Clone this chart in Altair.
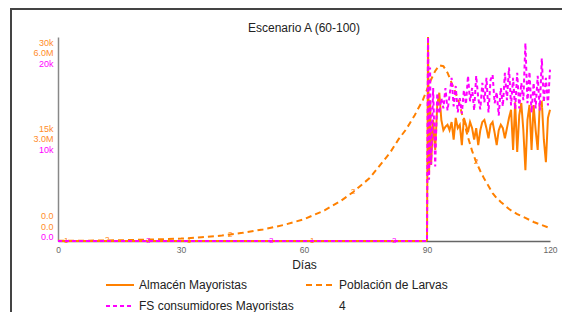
import altair as alt
import pandas as pd

FONT = "Liberation Sans"

SERIES = ["Almacén Mayoristas", "Población de Larvas", "FS consumidores Mayoristas", "4"]
COLORS = ["#FF8000", "#FF8000", "#FF00FF", "#FFFFFF"]
DASHES = [[1, 0], [6, 4], [4, 3], [1, 0]]

x_ticks = [0, 30, 60, 90, 120]

# 1 - Almacén Mayoristas (miles)
dias_alm = [0, 2, 32, 62, 90, 90.25, 90.5, 90.75, 91, 91.5, 92, 92.5, 93] + [93.5 + 0.5 * i for i in range(54)]
alm_k = [0, 0, 0, 0, 0, 30.0, 9.7, 20.7, 11.2, 17.8, 13.4, 20.0, 21.8,
         17.8, 16.3, 16.8, 17.1, 16.3, 17.5, 14.9, 18.1, 16.6, 17.1,
         14.1, 18.1, 17.1, 16.0, 17.5, 16.6, 14.9, 16.6, 14.1, 16.3,
         17.5, 17.8, 16.6, 15.1, 17.1, 17.5, 15.9, 14.1, 16.3, 17.1,
         16.6, 15.1, 16.6, 18.1, 19.3, 13.4, 20.4, 13.1, 18.5, 20.3,
         16.3, 10.4, 17.8, 20.0, 13.4, 20.0, 16.3, 13.4, 20.0, 20.4,
         14.9, 11.6, 18.1, 19.3]
marcas_alm = [2, 32, 62]

# 2 - Población de Larvas (millones)
dias_pob = [0, 5, 10, 12, 15, 20, 25, 30, 35, 40, 42, 45, 50, 55, 60, 65, 69, 72, 76, 79, 81, 83, 85, 87, 89,
            90, 91, 92, 93, 94, 95, 96, 97, 98, 99, 100, 101, 102, 103, 104, 105, 106, 107, 108,
            110, 112, 114, 116, 118, 120]
pob_m = [0.005, 0.008, 0.013, 0.016, 0.022, 0.035, 0.05, 0.07, 0.11, 0.16, 0.19, 0.24, 0.34, 0.47, 0.64,
         0.9, 1.18, 1.44, 1.85, 2.3, 2.6, 2.98, 3.3, 3.7, 4.15,
         4.45, 4.75, 5.0, 5.17, 5.14, 4.95, 4.65, 4.35, 4.0, 3.5, 3.05, 2.65, 2.32, 2.06, 1.82, 1.62,
         1.41, 1.26, 1.15, 0.94, 0.79, 0.68, 0.56, 0.47, 0.38]
marcas_pob = [12, 42, 72, 102]

# 3 - FS consumidores Mayoristas (miles)
dias_fs = [0, 22, 52, 82, 90, 90.25, 90.5, 90.75, 91, 91.5, 92, 92.5, 93] + [93.5 + 0.5 * i for i in range(54)]
fs_k = [0, 0, 0, 0, 0, 20.0, 6.0, 17.0, 7.5, 15.0, 7.3, 14.5, 12.5,
        14.0, 13.0, 15.0, 12.8, 14.2, 16.0, 13.2, 15.2, 12.6, 14.0,
        12.5, 14.8, 13.4, 16.2, 13.7, 15.0, 12.8, 16.2, 14.0, 12.9,
        15.5, 13.6, 16.0, 12.6, 15.8, 16.3, 13.5, 14.6, 12.3, 15.0,
        13.2, 16.5, 13.8, 17.0, 13.3, 16.0, 12.9, 16.5, 13.0, 15.5,
        13.8, 19.4, 13.5, 16.6, 12.6, 15.5, 13.0, 16.2, 12.8, 17.9,
        13.6, 16.0, 13.3, 16.8]
marcas_fs = [22, 52, 82]

df_alm = pd.DataFrame({"dia": dias_alm, "valor": [v * 1000 for v in alm_k], "serie": SERIES[0]})
df_pob = pd.DataFrame({"dia": dias_pob, "valor": [v * 1e6 for v in pob_m], "serie": SERIES[1]})
df_fs = pd.DataFrame({"dia": dias_fs, "valor": [v * 1000 for v in fs_k], "serie": SERIES[2]})

W, H = 492, 204

LEG = alt.Legend(title=None, orient="none", legendX=47, legendY=233, columns=2, direction="horizontal",
                 columnPadding=8, rowPadding=-10, symbolType="stroke", symbolSize=784,
                 symbolStrokeWidth=2, labelFontSize=12, labelFont=FONT, labelColor="#222",
                 labelOffset=4, padding=0, labelLimit=400)
COLOR = alt.Color("serie:N", scale=alt.Scale(domain=SERIES, range=COLORS), legend=LEG)
DASH = alt.StrokeDash("serie:N", scale=alt.Scale(domain=SERIES, range=DASHES), legend=LEG)

X = alt.X("dia:Q", scale=alt.Scale(domain=[0, 120], nice=False, zero=False),
          axis=alt.Axis(values=x_ticks, title="Días", ticks=False, grid=False, labelFlush=False,
                        labelFontSize=8.5, labelColor="#666", labelFont=FONT, labelPadding=4,
                        domainColor="#666", domainWidth=1.5, titleFont=FONT, titleFontSize=12,
                        titleFontWeight="normal", titleColor="#222", titlePadding=6))


def eje(valores, expr, offsets, color, domain):
    top, mid, bot = offsets
    return alt.Axis(orient="left", values=valores, labelExpr=expr, ticks=False, grid=False,
                    domain=domain, domainColor="#888", domainWidth=1.5, title=None,
                    labelFontSize=9, labelColor=color, labelFont=FONT, labelPadding=5,
                    labelBaseline="middle", labelFlush=False, labelOverlap=False,
                    labelOffset={"condition": [
                        {"test": f"datum.value == {valores[2]}", "value": top},
                        {"test": f"datum.value == {valores[1]}", "value": mid}],
                        "value": bot})


def grupo(df, idx, dominio, axis, marcas):
    Y = alt.Y("valor:Q", scale=alt.Scale(domain=dominio, nice=False, zero=True), axis=axis)
    base = alt.Chart(df)
    linea = base.mark_line(strokeWidth=2, clip=False).encode(x=X, y=Y, color=COLOR, strokeDash=DASH)
    texto = base.mark_text(fontSize=8, font=FONT, color=COLORS[idx]).encode(
        x=X, y=Y, text=alt.value(str(idx + 1))
    ).transform_filter(alt.FieldOneOfPredicate(field="dia", oneOf=marcas))
    return alt.layer(linea, texto)


g1 = grupo(df_alm, 0, [0, 30000],
           eje([0, 15000, 30000], "datum.value == 0 ? '0.0' : format(datum.value / 1000, 'd') + 'k'",
               (5, -11, -26), "#FF8C2A", True), marcas_alm)
g2 = grupo(df_pob, 1, [0, 6e6],
           eje([0, 3000000, 6000000], "datum.value == 0 ? '0.0' : format(datum.value / 1e6, '.1f') + 'M'",
               (15, -1, -15), "#FF8C2A", False), marcas_pob)
g3 = grupo(df_fs, 2, [0, 20000],
           eje([0, 10000, 20000], "datum.value == 0 ? '0.0' : format(datum.value / 1000, 'd') + 'k'",
               (26, 10, -5), "#FF00FF", False), marcas_fs)

marco = alt.Chart(pd.DataFrame({"a": [0]})).mark_rect(
    fillOpacity=0, stroke="#444", strokeWidth=2, clip=False
).encode(x=alt.value(-47), x2=alt.value(560), y=alt.value(-28), y2=alt.value(300))

chart = alt.layer(marco, g1, g2, g3).resolve_scale(y="independent").properties(
    width=W, height=H,
    title=alt.Title("Escenario A (60-100)", fontSize=12, font=FONT, fontWeight="normal",
                    color="#222", anchor="middle", offset=-27),
    autosize=alt.AutoSizeParams(type="none"),
    padding={"left": 50, "top": 29, "right": 12, "bottom": 71},
).configure_view(stroke=None)

chart.save("out.html", embed_options={"renderer": "svg", "actions": False})
